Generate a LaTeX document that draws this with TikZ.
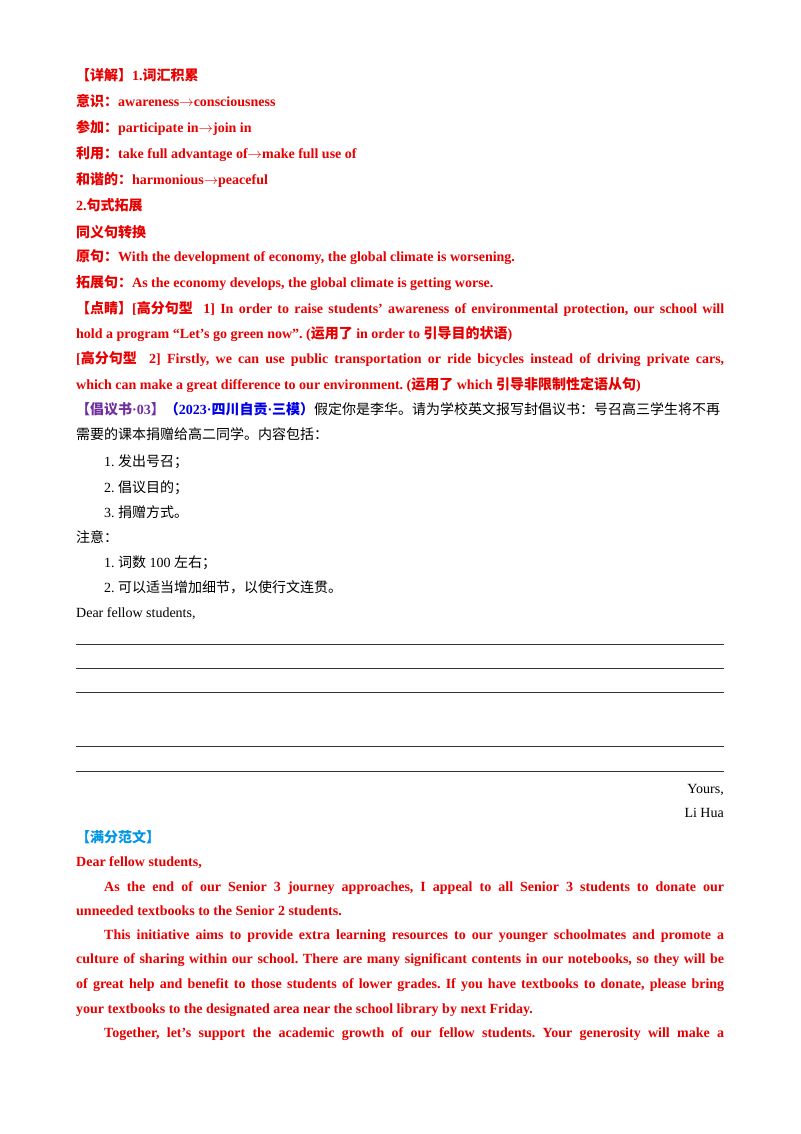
\documentclass[tikz,border=0pt]{standalone}
\usepackage{fontspec}
\setmainfont{Liberation Serif}
\newfontfamily\cjk{Noto Sans CJK SC}
\newcommand\zh[1]{{\cjk #1}}
\newcommand\ar{$\rightarrow$}
\definecolor{rd}{RGB}{230,0,0}
\definecolor{pu}{RGB}{112,48,160}
\definecolor{bl}{RGB}{0,0,230}
\definecolor{lb}{RGB}{0,150,230}
\newcommand\J[1]{\makebox[648pt][s]{#1}}
\newcommand\JI[1]{\makebox[620pt][s]{#1}}
\begin{document}
\frenchspacing
\begin{tikzpicture}[x=1pt,y=-1pt,
  t/.style={anchor=base west,inner sep=0,font=\fontsize{14}{16}\selectfont},
  r/.style={t,text=rd,font=\fontsize{14}{16}\selectfont\bfseries},
  rule/.style={line width=0.6pt,black!80}]
\useasboundingbox (0,0) rectangle (800,1134);
\node[r] (l1) at (76,81) {\zh{【详解】}1.\zh{词汇积累}};
\node[r] (l2) at (76,107) {\zh{意识：}awareness\ar consciousness};
\node[r] (l3) at (76,133) {\zh{参加：}participate in\ar join in};
\node[r] (l4) at (76,159) {\zh{利用：}take full advantage of\ar make full use of};
\node[r] (l5) at (76,185) {\zh{和谐的：}harmonious\ar peaceful};
\node[r] (l6) at (76,211) {2.\zh{句式拓展}};
\node[r] (l7) at (76,237) {\zh{同义句转换}};
\node[r] (l8) at (76,261) {\zh{原句：}With the development of economy, the global climate is worsening.};
\node[r] (l9) at (76,287) {\zh{拓展句：}As the economy develops, the global climate is getting worse.};
\node[r] (l10) at (76,313) {\J{\zh{【点睛】}[\zh{高分句型}\ \ 1] In order to raise students’ awareness of environmental protection, our school will}};
\node[r] (l11) at (76,338) {hold a program “Let’s go green now”. (\zh{运用了} in order to \zh{引导目的状语})};
\node[r] (l12) at (76,363) {\J{[\zh{高分句型}\ \ 2] Firstly, we can use public transportation or ride bicycles instead of driving private cars,}};
\node[r] (l13) at (76,389) {which can make a great difference to our environment. (\zh{运用了} which \zh{引导非限制性定语从句})};
\node[t] (q1) at (76,414) {\J{\textcolor{pu}{\bfseries\zh{【倡议书}·03\zh{】}}\textcolor{bl}{\bfseries\zh{（}2023·\zh{四川自贡}·\zh{三模）}}\zh{假定你是李华。请为学校英文报写封倡议书：号召高三学生将不再}}};
\node[t] (q2) at (76,439) {\zh{需要的课本捐赠给高二同学。内容包括：}};
\node[t] (q3) at (104,466) {1. \zh{发出号召；}};
\node[t] (q4) at (104,492) {2. \zh{倡议目的；}};
\node[t] (q5) at (104,517) {3. \zh{捐赠方式。}};
\node[t] (q6) at (76,542) {\zh{注意：}};
\node[t] (q7) at (104,567) {1. \zh{词数} 100 \zh{左右；}};
\node[t] (q8) at (104,592) {2. \zh{可以适当增加细节，以使行文连贯。}};
\node[t] (q9) at (76,617) {Dear fellow students,};
\foreach \y/\n in {644/a,668/b,692/c,746/d,771/e}{
  \coordinate (\n1) at (76,\y); \coordinate (\n2) at (724,\y);
  \draw[rule] (\n1) -- (\n2);}
\node[t,anchor=base east] (y1) at (724,793) {Yours,};
\node[t,anchor=base east] (y2) at (724,817) {Li Hua};
\node[t,text=lb,font=\fontsize{14}{16}\selectfont\bfseries] (m0) at (76,842) {\zh{【满分范文】}};
\node[r] (m1) at (76,866) {Dear fellow students,};
\node[r] (m2) at (104,891) {\JI{As the end of our Senior 3 journey approaches, I appeal to all Senior 3 students to donate our}};
\node[r] (m3) at (76,915) {unneeded textbooks to the Senior 2 students.};
\node[r] (m4) at (104,939) {\JI{This initiative aims to provide extra learning resources to our younger schoolmates and promote a}};
\node[r] (m5) at (76,963) {\J{culture of sharing within our school. There are many significant contents in our notebooks, so they will be}};
\node[r] (m6) at (76,988) {\J{of great help and benefit to those students of lower grades. If you have textbooks to donate, please bring}};
\node[r] (m7) at (76,1013) {your textbooks to the designated area near the school library by next Friday.};
\node[r] (m8) at (104,1037) {\JI{Together, let’s support the academic growth of our fellow students. Your generosity will make a}};
\end{tikzpicture}
\end{document}
